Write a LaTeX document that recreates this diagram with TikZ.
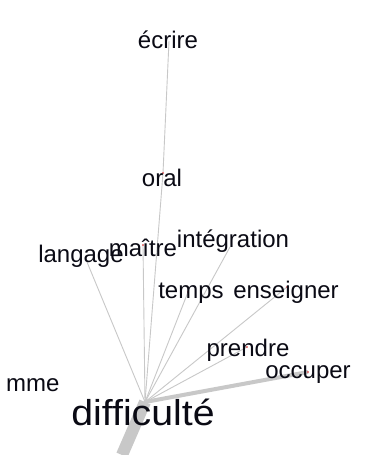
\documentclass[tikz,border=0pt]{standalone}
\usepackage{fontspec}
\setmainfont{Liberation Sans}
\newfontfamily\breed[FakeStretch=1.09]{Liberation Sans}
\usetikzlibrary{positioning}
\definecolor{gs}{RGB}{200,200,200}
\definecolor{ro}{RGB}{215,25,25}
\definecolor{zw}{RGB}{10,10,20}

\begin{document}
\begin{tikzpicture}[x=1pt,y=-1pt,
  woord/.style={anchor=base,inner sep=0pt,text=zw,font=\fontsize{24}{24}\selectfont},
  groot/.style={anchor=base,inner sep=0pt,text=zw,font=\breed\fontsize{36}{36}\selectfont},
  tak/.style={draw=gs,line width=0.9pt},
  stip/.style={circle,fill=ro,inner sep=0pt,minimum size=1.8pt}]
  \useasboundingbox[fill=white] (0,0) rectangle (378,455);

  % punten
  \coordinate (hub) at (145,402);
  \coordinate (ecrire) at (169,41);
  \coordinate (oral) at (163,173);
  \coordinate (langage) at (87,262);
  \coordinate (maitre) at (143,245);
  \coordinate (integr) at (230,247);
  \coordinate (temps) at (188,292);
  \coordinate (enseig) at (287,287);
  \coordinate (prendre) at (247,347);
  \coordinate (occuper) at (308,372);
  \coordinate (voet) at (122,455);

  % takken
  \draw[tak] (ecrire) -- (oral);
  \draw[tak] (oral) -- (hub);
  \draw[tak] (langage) -- (hub);
  \draw[tak] (maitre) -- (hub);
  \draw[tak] (integr) -- (hub);
  \draw[tak] (temps) -- (hub);
  \draw[tak] (enseig) -- (hub);
  \draw[tak] (prendre) -- (hub);
  \draw[tak,line width=4pt] (hub) -- (occuper);
  \draw[tak,line width=12pt] (hub) -- (voet);

  \foreach \p in {oral,maitre,temps,enseig,prendre,occuper}
    \node[stip] at (\p) {};

  % woorden
  \node[woord] (w1) at (168,48) {écrire};
  \node[woord] (w2) at (162,186) {oral};
  \node[woord] (w3) at (81,262) {langage};
  \node[woord] (w4) at (143,256) {maître};
  \node[woord] (w5) at (233,247) {intégration};
  \node[woord] (w6) at (191,298) {temps};
  \node[woord] (w7) at (286,298) {enseigner};
  \node[woord] (w8) at (248,356) {prendre};
  \node[woord] (w9) at (308,378) {occuper};
  \node[woord,anchor=base west] (w10) at (6,391) {mme};
  \node[groot] (w11) at (143,425) {difficulté};
\end{tikzpicture}
\end{document}
